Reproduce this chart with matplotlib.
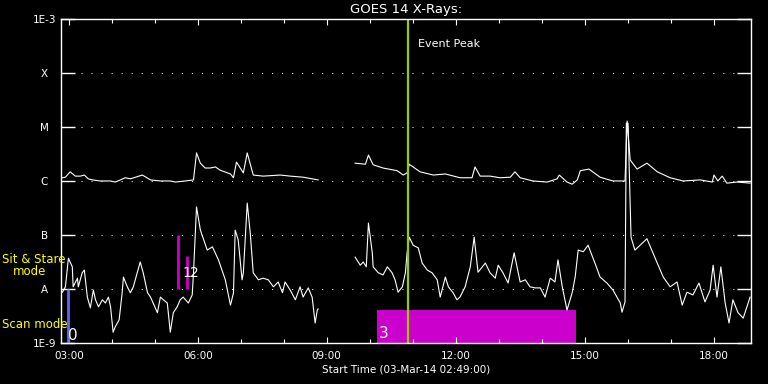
import numpy as np
import matplotlib
matplotlib.use('Agg')
import matplotlib.pyplot as plt
from matplotlib.ticker import MultipleLocator, FuncFormatter, NullLocator, FixedLocator

plt.rcParams['font.family'] = ['DejaVu Sans']
plt.rcParams['lines.scale_dashes'] = False

# time = hours of 03-Mar-14, flux = log10(W/m^2)
long_t1 = [2.85, 2.92, 3.03, 3.15, 3.27, 3.36, 3.45, 3.55, 3.73, 3.97, 4.08, 4.20, 4.31, 4.43,
           4.71, 4.90, 5.13, 5.36, 5.48, 5.71, 5.90, 5.97, 6.06, 6.17, 6.29, 6.41, 6.52, 6.76,
           6.83, 6.90, 7.06, 7.15, 7.29, 7.52, 7.92, 8.15, 8.45, 8.80]
long_v1 = [-5.94, -5.93, -5.83, -5.91, -5.91, -5.89, -5.96, -5.98, -6.00, -6.00, -6.02, -5.98, -5.94, -5.96,
           -5.89, -5.98, -6.00, -6.00, -6.02, -6.00, -5.98, -5.48, -5.67, -5.76, -5.76, -5.74, -5.80, -5.87,
           -5.94, -5.65, -5.85, -5.48, -5.89, -5.91, -5.89, -5.91, -5.93, -5.98]
long_t2 = [9.66, 9.90, 9.97, 10.08, 10.31, 10.64, 10.78, 10.87, 10.92, 11.17, 11.48, 11.76, 12.10, 12.38,
           12.45, 12.57, 12.80, 13.03, 13.27, 13.38, 13.50, 13.80, 14.13, 14.36, 14.41, 14.59, 14.71, 14.83,
           14.90, 15.10, 15.36, 15.66, 15.94, 15.99, 16.06, 16.22, 16.45, 16.69, 16.99, 17.29, 17.69, 17.97,
           18.01, 18.10, 18.20, 18.31, 18.55, 18.85]
long_v2 = [-5.67, -5.69, -5.52, -5.70, -5.76, -5.81, -5.89, -5.85, -5.69, -5.83, -5.89, -5.87, -5.94, -5.94,
           -5.74, -5.91, -5.91, -5.94, -5.93, -5.83, -5.94, -6.00, -6.02, -5.96, -5.89, -6.02, -6.06, -5.98,
           -5.81, -5.78, -5.93, -6.00, -6.00, -4.89, -5.61, -5.78, -5.67, -5.83, -5.94, -6.00, -5.98, -6.02,
           -5.89, -6.00, -5.91, -6.04, -6.02, -6.04]

short_t1 = [2.85, 2.92, 2.99, 3.08, 3.10, 3.20, 3.22, 3.31, 3.36, 3.43, 3.50, 3.57, 3.62, 3.69, 3.78,
            3.85, 3.92, 3.97, 4.03, 4.08, 4.17, 4.24, 4.27, 4.36, 4.43, 4.50, 4.66, 4.73, 4.83, 4.90,
            5.06, 5.13, 5.20, 5.29, 5.36, 5.43, 5.52, 5.59, 5.66, 5.78, 5.87, 5.90, 5.97, 6.06, 6.22,
            6.34, 6.48, 6.64, 6.76, 6.83, 6.87, 6.94, 7.03, 7.06, 7.15, 7.22, 7.29, 7.41, 7.52, 7.64,
            7.76, 7.87, 7.97, 8.03, 8.15, 8.27, 8.38, 8.45, 8.57, 8.66, 8.73, 8.78, 8.80]
short_v1 = [-8.06, -7.96, -7.43, -7.59, -7.96, -7.80, -7.96, -7.70, -7.65, -8.15, -8.35, -8.02, -8.20, -8.33, -8.20,
            -8.26, -8.15, -8.33, -8.80, -8.70, -8.57, -8.07, -7.78, -7.96, -8.07, -7.96, -7.50, -7.70, -8.07, -8.15,
            -8.44, -8.15, -8.20, -8.26, -8.80, -8.44, -8.33, -8.20, -8.15, -8.26, -8.11, -7.70, -6.48, -6.91, -7.28,
            -7.22, -7.46, -7.83, -8.30, -8.07, -6.91, -7.09, -7.83, -7.70, -6.41, -6.96, -7.70, -7.83, -7.80, -7.83,
            -7.96, -7.87, -8.07, -7.87, -8.02, -8.20, -7.96, -8.15, -7.98, -8.15, -8.63, -8.39, -8.37]
short_t2 = [9.66, 9.78, 9.85, 9.92, 9.97, 10.06, 10.08, 10.20, 10.31, 10.41, 10.52, 10.59, 10.66, 10.76,
            10.83, 10.87, 10.92, 11.01, 11.13, 11.22, 11.34, 11.45, 11.57, 11.64, 11.76, 11.83, 11.94, 12.03,
            12.10, 12.22, 12.34, 12.43, 12.52, 12.69, 12.80, 12.92, 12.99, 13.10, 13.22, 13.36, 13.50, 13.62,
            13.73, 13.85, 13.97, 14.08, 14.20, 14.31, 14.38, 14.48, 14.59, 14.71, 14.78, 14.85, 14.97, 15.08,
            15.24, 15.36, 15.52, 15.66, 15.83, 15.87, 15.94, 15.97, 16.01, 16.08, 16.17, 16.45, 16.69, 16.83,
            16.99, 17.15, 17.27, 17.38, 17.52, 17.66, 17.80, 17.92, 17.99, 18.08, 18.17, 18.27, 18.36, 18.45,
            18.57, 18.69, 18.85]
short_v2 = [-7.41, -7.56, -7.50, -7.59, -6.78, -7.33, -7.59, -7.70, -7.74, -7.59, -7.70, -7.83, -8.06, -7.96,
            -7.70, -7.33, -7.04, -7.19, -7.24, -7.52, -7.65, -7.70, -7.83, -8.15, -7.78, -7.96, -8.07, -8.20,
            -8.15, -7.96, -7.59, -7.04, -7.69, -7.52, -7.70, -7.80, -7.56, -7.70, -7.89, -7.33, -7.87, -7.83,
            -7.96, -7.98, -7.98, -8.15, -7.80, -7.87, -7.46, -7.96, -8.39, -8.07, -7.78, -7.28, -7.31, -7.19,
            -7.52, -7.78, -7.89, -8.02, -8.26, -8.43, -8.24, -4.93, -4.93, -7.04, -7.28, -7.07, -7.52, -7.78,
            -7.96, -7.87, -8.30, -8.06, -8.11, -7.89, -8.24, -8.02, -7.56, -8.15, -7.59, -8.26, -8.63, -8.20,
            -8.44, -8.54, -8.15]

event_peak = 10.90
scan_t = 2.99
sitstare_t = [5.55, 5.74]
sitstare_top = [-7.0, -7.39]
obs3_start, obs3_end, obs3_top = 10.17, 14.80, -8.39

class_levels = [-9, -8, -7, -6, -5, -4, -3]
class_labels = ['1E-9', 'A', 'B', 'C', 'M', 'X', '1E-3']
t_start, t_end = 2.8167, 18.87

fig = plt.figure(figsize=(7.68, 3.84), dpi=100, facecolor='black')
ax = fig.add_axes([0.0794, 0.1068, 0.8984, 0.8438])
ax.set_facecolor('black')
ax.set_yscale('log')

for lv in class_levels[1:-1]:
    ax.axhline(10.0 ** lv, color='white', lw=0.72, ls=(0, (0.72, 6.5)))

ax.plot(long_t1, 10 ** np.array(long_v1), color='white', lw=0.8)
ax.plot(long_t2, 10 ** np.array(long_v2), color='white', lw=0.8)
ax.plot(short_t1, 10 ** np.array(short_v1), color='white', lw=0.8)
ax.plot(short_t2, 10 ** np.array(short_v2), color='white', lw=0.8)

# observing modes
ax.vlines(scan_t, 1e-9, 1e-8, color='#6464ff', lw=2)
ax.vlines(sitstare_t, 1e-8, 10 ** np.array(sitstare_top), color='#cc00cc', lw=2)
ax.bar(obs3_start, 10 ** obs3_top - 1e-9, bottom=1e-9, width=obs3_end - obs3_start,
       align='edge', color='#cc00cc')
ax.text(scan_t, 10 ** -8.94, '0', color='white', fontsize=11)
ax.text(5.65, 10 ** -7.78, '1', color='white', fontsize=10)
ax.text(5.82, 10 ** -7.78, '2', color='white', fontsize=10)
ax.text(obs3_start + 0.03, 10 ** -8.91, '3', color='white', fontsize=11)

ax.axvline(event_peak, color='#99cc00', lw=1.6)
ax.text(event_peak + 0.23, 10 ** -3.52, 'Event Peak', color='white', fontsize=8)

ax.set_xlim(t_start, t_end)
ax.set_ylim(1e-9, 1e-3)
ax.xaxis.set_major_locator(MultipleLocator(3))
ax.xaxis.set_minor_locator(MultipleLocator(1))
ax.xaxis.set_major_formatter(FuncFormatter(lambda h, p: '%02d:00' % (int(round(h)) % 24)))
ax.yaxis.set_major_locator(FixedLocator([10.0 ** lv for lv in class_levels]))
ax.yaxis.set_minor_locator(NullLocator())
ax.set_yticklabels(class_labels)
for lab in ax.get_yticklabels():
    lab.set_horizontalalignment('center')

ax.tick_params(which='both', direction='in', colors='white', top=True, right=True, labelsize=7.5)
ax.tick_params(axis='x', which='major', length=4.3, width=0.8, pad=6)
ax.tick_params(axis='x', which='minor', length=2.9, width=0.8)
ax.tick_params(axis='y', which='major', length=10, width=1, pad=12)
for s in ax.spines.values():
    s.set_color('white')
    s.set_linewidth(1)

ax.set_title('GOES 14 X-Rays:', color='white', fontsize=9.5, pad=4)
ax.set_xlabel('Start Time (03-Mar-14 02:49:00)', color='white', fontsize=7.5, labelpad=2)

fig.text(0.003, 0.315, 'Sit & Stare', color='yellow', fontsize=8.5, va='baseline')
fig.text(0.017, 0.284, 'mode', color='yellow', fontsize=8.5, va='baseline')
fig.text(0.003, 0.146, 'Scan mode', color='yellow', fontsize=8.5, va='baseline')

fig.savefig('out.png', dpi=100, facecolor='black')
